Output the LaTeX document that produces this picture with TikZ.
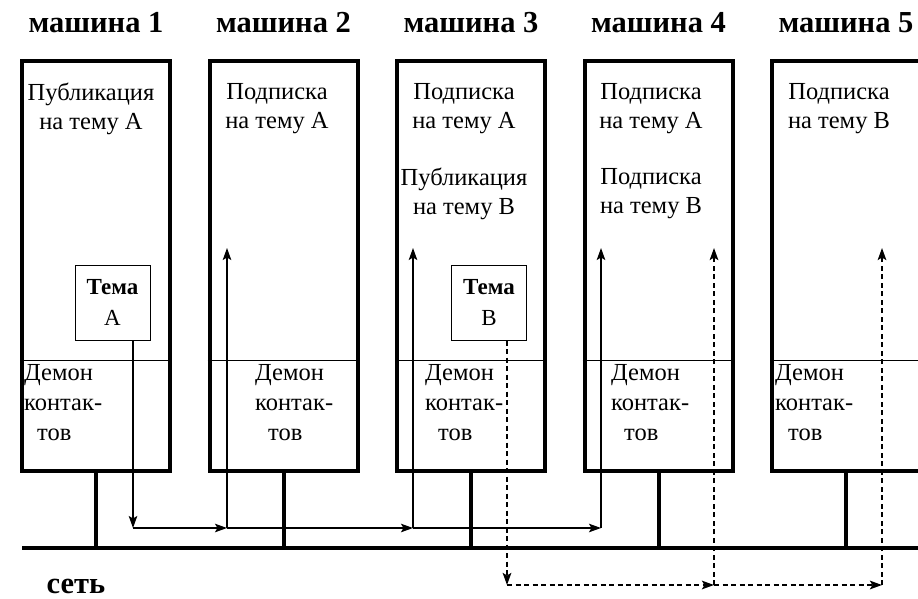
\documentclass[tikz,border=0pt]{standalone}
\usepackage{fontspec}
\setmainfont{Liberation Serif}
\usetikzlibrary{arrows.meta,positioning,calc}

\begin{document}
\begin{tikzpicture}[x=1pt,y=-1pt,>={Stealth[length=12pt,width=8.5pt,inset=2.5pt]},node distance=187.5pt,
	machine/.style={rectangle,draw,line width=4pt,minimum width=148pt,minimum height=409pt},
	topic/.style={rectangle,draw,line width=1pt,minimum width=75pt,minimum height=75pt,inner sep=0pt,align=center,font=\fontsize{23}{31}\selectfont},
	title/.style={inner sep=0pt,font=\fontsize{30.5}{32}\selectfont\bfseries},
	role/.style={inner sep=0pt,align=center,anchor=north,font=\fontsize{24.5}{29}\selectfont},
	daemon/.style={inner sep=0pt,align=left,anchor=west,font=\fontsize{24.5}{30}\selectfont},
	wire/.style={line width=4pt},
	msg/.style={->,line width=1.5pt},
	msgb/.style={msg,line width=2.2pt,dash pattern=on 5pt off 3.5pt}]
	
	\useasboundingbox (0,0) rectangle (918,599);
	
	% machines
	\node[machine] (m1) at (96,266) {};
	\node[machine] (m2) [right of=m1] {};
	\node[machine] (m3) [right of=m2] {};
	\node[machine] (m4) [right of=m3] {};
	\node[machine] (m5) [right of=m4] {};
	
	\node[title] (n1) [above=27pt of m1] {машина 1};
	\node[title] (n2) [above=27pt of m2] {машина 2};
	\node[title] (n3) [above=27pt of m3] {машина 3};
	\node[title] (n4) [above=27pt of m4] {машина 4};
	\node[title] (n5) [above=27pt of m5] {машина 5};
	
	% daemon part
	\draw[line width=0.8pt] ([yshift=112pt]m1.south west) -- ([yshift=112pt]m1.south east);
	\draw[line width=0.8pt] ([yshift=112pt]m2.south west) -- ([yshift=112pt]m2.south east);
	\draw[line width=0.8pt] ([yshift=112pt]m3.south west) -- ([yshift=112pt]m3.south east);
	\draw[line width=0.8pt] ([yshift=112pt]m4.south west) -- ([yshift=112pt]m4.south east);
	\draw[line width=0.8pt] ([yshift=112pt]m5.south west) -- ([yshift=112pt]m5.south east);
	
	\node[role] (r1) at (91,83) {Публикация\\на тему А};
	\node[role] (r2) at (277,83) {Подписка\\на тему А};
	\node[role] (r3) at (464,83) {Подписка\\на тему А};
	\node[role] (p3) at (464,168) {Публикация\\на тему В};
	\node[role] (r4) at (651,83) {Подписка\\на тему А};
	\node[role] (s4) at (651,168) {Подписка\\на тему В};
	\node[role] (r5) at (839,83) {Подписка\\на тему В};
	
	\node[daemon] (d1) at (24,403) {Демон\\контак-\\\hspace*{13pt}тов};
	\node[daemon] (d2) at (255,403) {Демон\\контак-\\\hspace*{13pt}тов};
	\node[daemon] (d3) at (425,403) {Демон\\контак-\\\hspace*{13pt}тов};
	\node[daemon] (d4) at (611,403) {Демон\\контак-\\\hspace*{13pt}тов};
	\node[daemon] (d5) at (775,403) {Демон\\контак-\\\hspace*{13pt}тов};
	
	\node[topic] (ta) at (112.5,302.5) {\textbf{Тема}\\А};
	\node[topic] (tb) at (489,302.5) {\textbf{Тема}\\В};
	
	% network
	\coordinate (netl) at (22,548);
	\coordinate (netr) at (930,548);
	\draw[wire] (netl) -- (netr);
	\draw[wire] (m1.south) -- (m1.south |- netl);
	\draw[wire] (m2.south) -- (m2.south |- netl);
	\draw[wire] (m3.south) -- (m3.south |- netl);
	\draw[wire] (m4.south) -- (m4.south |- netl);
	\draw[wire] (m5.south) -- (m5.south |- netl);
	\node[title] (net) at (76,586) {сеть};
	
	% topic A
	\coordinate (a1) at (133,528);
	\coordinate (a2) at (227,528);
	\coordinate (a3) at (413,528);
	\coordinate (a4) at (601,528);
	\draw[msg] (a1 |- ta.south) -- (a1);
	\draw[msg] (a1) -- (a2);
	\draw[msg] (a2) -- (a3);
	\draw[msg] (a3) -- (a4);
	\draw[msg] (a2) -- ++(0,-280);
	\draw[msg] (a3) -- ++(0,-280);
	\draw[msg] (a4) -- ++(0,-280);
	
	% topic B
	\coordinate (b1) at (507,585);
	\coordinate (b2) at (714,585);
	\coordinate (b3) at (882,585);
	\draw[msgb] (b1 |- tb.south) -- (b1);
	\draw[msgb] (b1) -- (b2);
	\draw[msgb] (b2) -- (b3);
	\draw[msgb] (b2) -- ++(0,-337);
	\draw[msgb] (b3) -- ++(0,-337);
\end{tikzpicture}
\end{document}
